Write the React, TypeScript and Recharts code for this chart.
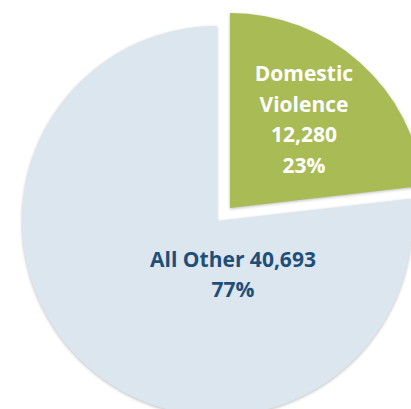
import React from 'react';
import { PieChart, Pie, Cell } from 'recharts';

// slice names and counts
const categories = ['Domestic Violence', 'All Other'];
const counts = [12280, 40693];

const data = categories.map((name, i) => ({ name, value: counts[i] }));

const BLUE = '#dce6ee';
const GREEN = '#a9bb55';
const TEXT_BLUE = '#1f4e79';
const FONT = '"Open Sans", sans-serif';

const fmt = (n: number) => n.toLocaleString('en-US');

// label for the exploded green slice, placed along its mid angle
const greenLabel = (props: any) => {
  if (props.index !== 0) return null;
  const { cx, cy, midAngle, outerRadius, percent, value } = props;
  const rad = (Math.PI / 180) * midAngle;
  const r = outerRadius * 0.57;
  const x = cx + r * Math.cos(rad);
  const y = cy - r * Math.sin(rad);
  const lines = ['Domestic', 'Violence', fmt(value), `${Math.round(percent * 100)}%`];
  return (
    <text x={x} y={y - 51} fill="#fff" textAnchor="middle" fontFamily={FONT} fontWeight="bold" fontSize={21}>
      {lines.map((l, i) => (
        <tspan key={i} x={x} dy={i === 0 ? 7 : 30.5}>{l}</tspan>
      ))}
    </text>
  );
};

// label for the big slice, sits just below the pie centre
const blueLabel = (props: any) => {
  if (props.index !== 1) return null;
  const { cx, cy, percent, value, name } = props;
  const x = cx + 16;
  return (
    <text x={x} y={cy + 46} fill={TEXT_BLUE} textAnchor="middle" fontFamily={FONT} fontWeight="bold" fontSize={21}>
      <tspan x={x} dy={0}>{`${name} ${fmt(value)}`}</tspan>
      <tspan x={x} dy={30}>{`${Math.round(percent * 100)}%`}</tspan>
    </text>
  );
};

export default function App() {
  return (
    <div style={{ position: 'absolute', left: 0, top: 0, width: 411, height: 409, background: '#fff' }}>
      <PieChart width={411} height={409}>
        <Pie
          data={data}
          dataKey="value"
          nameKey="name"
          cx={212}
          cy={216}
          outerRadius={195}
          startAngle={90}
          endAngle={-270}
          stroke="none"
          label={blueLabel}
          labelLine={false}
          isAnimationActive={false}
        >
          <Cell fill="none" />
          <Cell fill={BLUE} style={{ filter: 'drop-shadow(0px 1px 1.5px rgba(0,0,0,0.25))' }} />
        </Pie>
        <Pie
          data={data}
          dataKey="value"
          nameKey="name"
          cx={225}
          cy={203}
          outerRadius={195}
          startAngle={90}
          endAngle={-270}
          stroke="none"
          label={greenLabel}
          labelLine={false}
          isAnimationActive={false}
        >
          <Cell fill={GREEN} style={{ filter: 'drop-shadow(0px 1px 1.5px rgba(0,0,0,0.25))' }} />
          <Cell fill="none" />
        </Pie>
      </PieChart>
    </div>
  );
}
